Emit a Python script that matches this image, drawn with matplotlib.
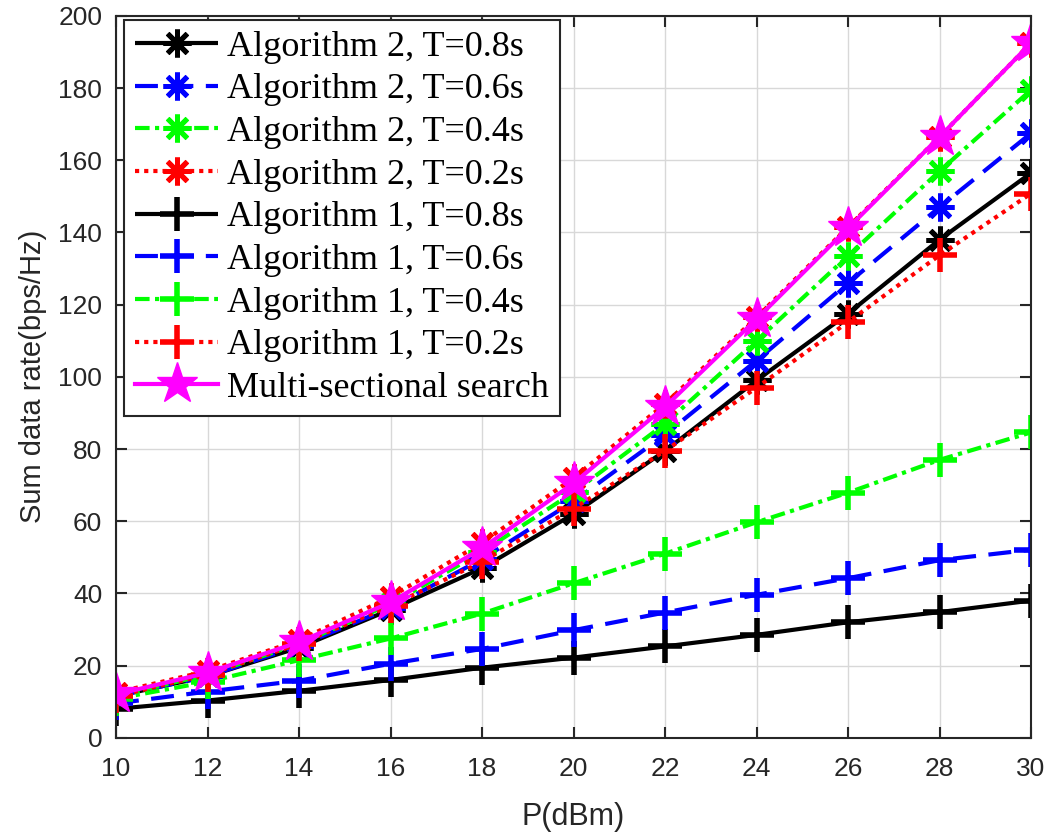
import matplotlib
matplotlib.use("Agg")
import matplotlib.pyplot as plt
import numpy as np

# transmit power (dBm)
p_dbm = [10, 12, 14, 16, 18, 20, 22, 24, 26, 28, 30]

# sum data rate (bps/Hz)
alg2_t08 = [11.5, 17.0, 25.0, 35.5, 47.0, 62.0, 79.5, 99.0, 117.5, 138.0, 156.5]
alg2_t06 = [11.5, 17.0, 25.5, 36.0, 49.5, 65.5, 84.0, 104.5, 126.0, 147.0, 167.5]
alg2_t04 = [11.5, 17.5, 26.0, 37.0, 51.5, 68.0, 87.0, 110.0, 133.5, 157.0, 179.5]
alg2_t02 = [12.5, 18.5, 27.0, 39.0, 54.0, 72.0, 92.5, 116.5, 141.5, 166.5, 192.5]
alg1_t08 = [8.0, 10.3, 13.0, 16.0, 19.4, 22.2, 25.3, 28.5, 32.0, 34.8, 38.0]
alg1_t06 = [9.5, 12.8, 15.8, 20.5, 24.6, 29.8, 34.7, 39.6, 44.2, 49.2, 52.1]
alg1_t04 = [10.8, 15.5, 21.5, 27.5, 34.4, 42.8, 51.0, 59.7, 67.9, 77.0, 84.6]
alg1_t02 = [11.5, 17.5, 26.0, 36.5, 48.8, 63.5, 79.5, 97.0, 115.2, 133.7, 150.8]
multi_search = [12.0, 18.0, 26.5, 37.5, 52.5, 70.5, 91.7, 116.0, 141.2, 166.5, 192.5]

labels = ["Algorithm 2, T=0.8s", "Algorithm 2, T=0.6s", "Algorithm 2, T=0.4s",
          "Algorithm 2, T=0.2s", "Algorithm 1, T=0.8s", "Algorithm 1, T=0.6s",
          "Algorithm 1, T=0.4s", "Algorithm 1, T=0.2s", "Multi-sectional search"]

solid = (0, ())
dashed = (0, (5.5, 3.0))
dashdot = (0, (3.5, 1.3, 1.0, 1.3))
dotted = (0, (1.0, 1.2))

asterisk = (8, 2, 0)

series = [
    (alg2_t08, "black", solid, asterisk),
    (alg2_t06, "blue", dashed, asterisk),
    (alg2_t04, "#00ff00", dashdot, asterisk),
    (alg2_t02, "red", dotted, asterisk),
    (alg1_t08, "black", solid, "+"),
    (alg1_t06, "blue", dashed, "+"),
    (alg1_t04, "#00ff00", dashdot, "+"),
    (alg1_t02, "red", dotted, "+"),
]

plt.rcParams["font.family"] = ["Liberation Sans", "DejaVu Sans"]

fig = plt.figure(figsize=(10.51, 8.39), dpi=100)
ax = fig.add_axes([0.1104, 0.1207, 0.8706, 0.8603])

for (vals, col, ls, mk), lab in zip(series, labels):
    if mk == asterisk:
        ms, mew = 20, 3.6
    else:
        ms, mew = 25, 4
    ax.plot(p_dbm, vals, color=col, linestyle=ls, linewidth=3, marker=mk,
            markersize=ms, markeredgewidth=mew, label=lab)

ax.plot(p_dbm, multi_search, color="magenta", linestyle="-", linewidth=3,
        marker="*", markersize=31, markerfacecolor="magenta",
        markeredgecolor="magenta", label=labels[-1])

ax.set_xlim(10, 30)
ax.set_ylim(0, 200)
ax.set_xticks(np.arange(10, 31, 2))
ax.set_yticks(np.arange(0, 201, 20))
ax.grid(True, color="#d8d8d8", linewidth=1)
ax.set_axisbelow(True)
ax.tick_params(direction="in", length=8, width=1.5, labelsize=19,
               top=True, right=True, colors="#262626")
ax.tick_params(axis="x", pad=14)
ax.tick_params(axis="y", pad=10)
for s in ax.spines.values():
    s.set_color("#262626")
    s.set_linewidth(1.5)

ax.set_xlabel("P(dBm)", fontsize=22, color="#262626", labelpad=15)
ax.set_ylabel("Sum data rate(bps/Hz)", fontsize=21, color="#262626", labelpad=8)

leg = ax.legend(loc="upper left", bbox_to_anchor=(0.009, 0.995),
                prop={"family": "Liberation Serif", "size": 26},
                handlelength=2.3, handletextpad=0.25, labelspacing=0.26,
                borderpad=0.3, borderaxespad=0.0, fancybox=False,
                framealpha=1, edgecolor="#262626", markerscale=1.0)
leg.get_frame().set_linewidth(1.5)

fig.savefig("out.png", dpi=100)
